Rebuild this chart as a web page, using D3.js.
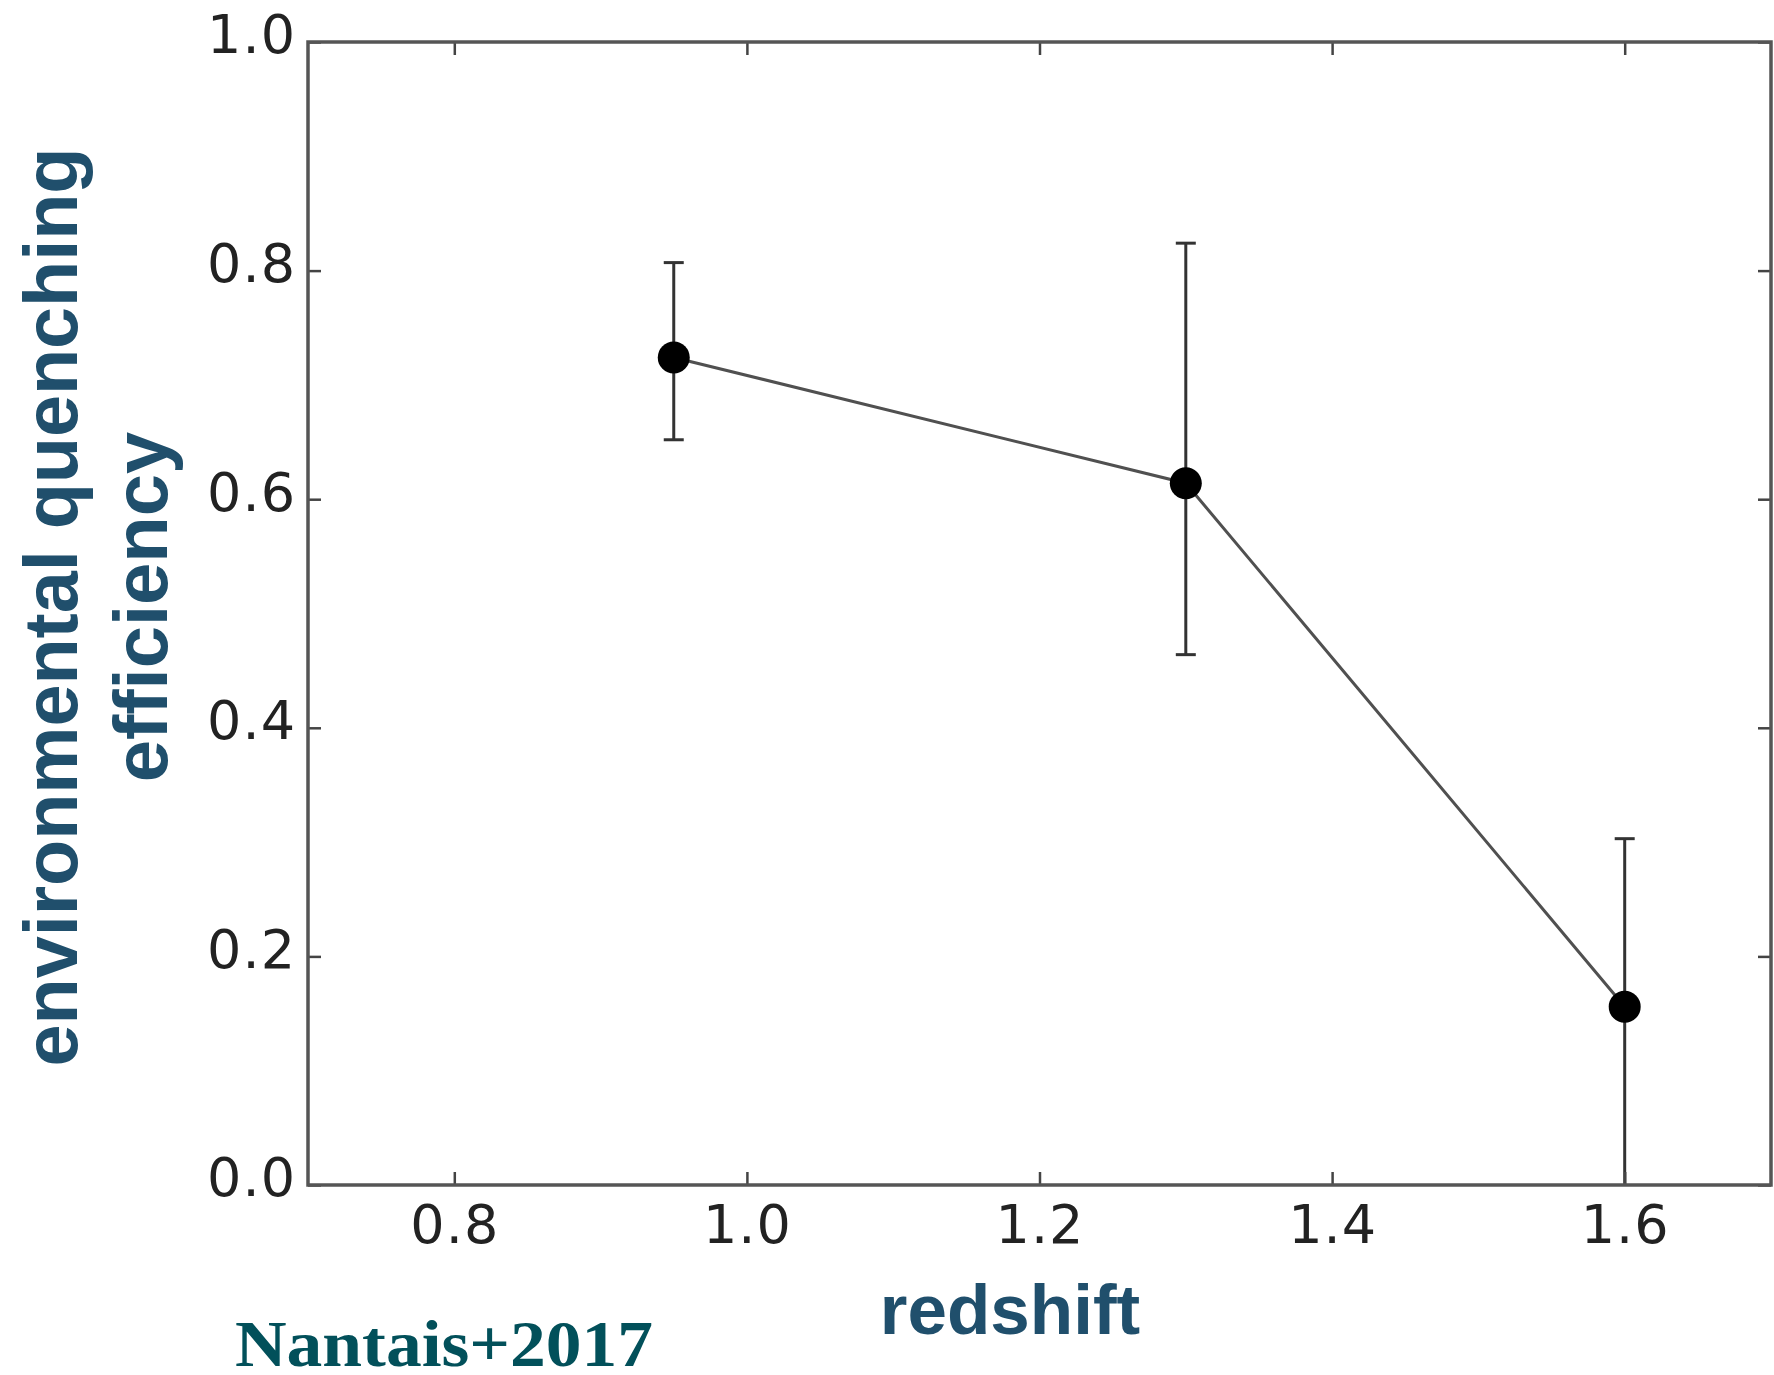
<!DOCTYPE html>
<html>
<head>
<meta charset="utf-8">
<script src="https://cdn.jsdelivr.net/npm/d3@7"></script>
<style>
  body { margin: 0; background: #fff; }
  #chart { width: 1774px; height: 1375px; }
</style>
</head>
<body>
<div id="chart"></div>
<script>

// data
var redshift = [0.95, 1.3, 1.6];
var efficiency = [0.724, 0.614, 0.156];
var errLow = [0.652, 0.464, 0.0];
var errHigh = [0.807, 0.824, 0.303];

var xTicks = [0.8, 1.0, 1.2, 1.4, 1.6];
var yTicks = [0.0, 0.2, 0.4, 0.6, 0.8, 1.0];

var width = 1774;
var height = 1375;

var plotLeft = 308, plotRight = 1771, plotTop = 42, plotBottom = 1185;

var svg = d3.select("#chart")
    .append("svg")
    .attr("width", width)
    .attr("height", height);

var x = d3.scaleLinear().domain([0.7, 1.7]).range([plotLeft, plotRight]);
var y = d3.scaleLinear().domain([0, 1]).range([plotBottom, plotTop]);

var points = redshift.map(function(d, i) {
    return { x: d, y: efficiency[i], lo: errLow[i], hi: errHigh[i] };
});

// connecting line
var line = d3.line()
    .x(function(d) { return x(d.x); })
    .y(function(d) { return y(d.y); });

svg.append("path")
    .datum(points)
    .attr("d", line)
    .attr("fill", "none")
    .attr("stroke", "#505050")
    .attr("stroke-width", 3);

// error bars
var eb = svg.selectAll(".errbar")
    .data(points)
    .enter()
    .append("g")
    .attr("class", "errbar")
    .attr("stroke", "#333")
    .attr("stroke-width", 3);

eb.append("line")
    .attr("x1", function(d) { return x(d.x); })
    .attr("x2", function(d) { return x(d.x); })
    .attr("y1", function(d) { return y(d.lo); })
    .attr("y2", function(d) { return y(d.hi); });

eb.append("line")
    .attr("x1", function(d) { return x(d.x) - 10; })
    .attr("x2", function(d) { return x(d.x) + 10; })
    .attr("y1", function(d) { return y(d.hi); })
    .attr("y2", function(d) { return y(d.hi); });

eb.filter(function(d) { return d.lo > 0; })
    .append("line")
    .attr("x1", function(d) { return x(d.x) - 10; })
    .attr("x2", function(d) { return x(d.x) + 10; })
    .attr("y1", function(d) { return y(d.lo); })
    .attr("y2", function(d) { return y(d.lo); });

svg.selectAll("circle")
    .data(points)
    .enter()
    .append("circle")
    .attr("cx", function(d) { return x(d.x); })
    .attr("cy", function(d) { return y(d.y); })
    .attr("r", 16)
    .attr("fill", "#000");

// axes: ticks inside on all four sides
var tickLen = 13;
var axisFont = "'DejaVu Sans', sans-serif";

function styleAxis(g) {
    g.select(".domain").remove();
    g.selectAll(".tick line").attr("stroke", "#444").attr("stroke-width", 2.5);
}

svg.append("g")
    .attr("transform", "translate(0," + plotBottom + ")")
    .call(d3.axisBottom(x).tickValues(xTicks).tickSizeInner(-tickLen).tickSizeOuter(0)
        .tickPadding(20).tickFormat(d3.format(".1f")))
    .call(styleAxis)
    .selectAll("text")
    .attr("font-family", axisFont)
    .attr("font-size", 54)
    .attr("letter-spacing", 1)
    .attr("fill", "#222");

svg.append("g")
    .attr("transform", "translate(0," + plotTop + ")")
    .call(d3.axisTop(x).tickValues(xTicks).tickSizeInner(-tickLen).tickSizeOuter(0)
        .tickFormat(""))
    .call(styleAxis);

svg.append("g")
    .attr("transform", "translate(" + plotLeft + ",0)")
    .call(d3.axisLeft(y).tickValues(yTicks).tickSizeInner(-tickLen).tickSizeOuter(0)
        .tickPadding(12).tickFormat(d3.format(".1f")))
    .call(styleAxis)
    .selectAll("text")
    .attr("font-family", axisFont)
    .attr("font-size", 54)
    .attr("letter-spacing", 1)
    .attr("dy", "0.2em")
    .attr("fill", "#222");

svg.append("g")
    .attr("transform", "translate(" + plotRight + ",0)")
    .call(d3.axisRight(y).tickValues(yTicks).tickSizeInner(-tickLen).tickSizeOuter(0)
        .tickFormat(""))
    .call(styleAxis);

// frame
svg.append("rect")
    .attr("x", plotLeft)
    .attr("y", plotTop)
    .attr("width", plotRight - plotLeft)
    .attr("height", plotBottom - plotTop)
    .attr("fill", "none")
    .attr("stroke", "#555")
    .attr("stroke-width", 3.5);

// labels
var labelColor = "#204f6c";

svg.append("text")
    .attr("x", 1010)
    .attr("y", 1334)
    .attr("text-anchor", "middle")
    .attr("font-family", "'Liberation Sans', Arial, sans-serif")
    .attr("font-weight", "bold")
    .attr("font-size", 71)
    .attr("fill", labelColor)
    .text("redshift");

var yLabel = svg.append("text")
    .attr("transform", "translate(0,607) rotate(-90)")
    .attr("text-anchor", "middle")
    .attr("font-family", "'Liberation Sans', Arial, sans-serif")
    .attr("font-weight", "bold")
    .attr("font-size", 76)
    .attr("fill", labelColor);

yLabel.append("tspan")
    .attr("x", 0)
    .attr("y", 77)
    .attr("textLength", 919)
    .attr("lengthAdjust", "spacingAndGlyphs")
    .text("environmental quenching");

yLabel.append("tspan")
    .attr("x", 0)
    .attr("y", 167)
    .text("efficiency");

svg.append("text")
    .attr("x", 235)
    .attr("y", 1366)
    .attr("font-family", "'Liberation Serif', 'DejaVu Serif', serif")
    .attr("font-weight", "bold")
    .attr("font-size", 66)
    .attr("textLength", 418)
    .attr("lengthAdjust", "spacingAndGlyphs")
    .attr("fill", "#02505a")
    .text("Nantais+2017");

</script>
</body>
</html>
